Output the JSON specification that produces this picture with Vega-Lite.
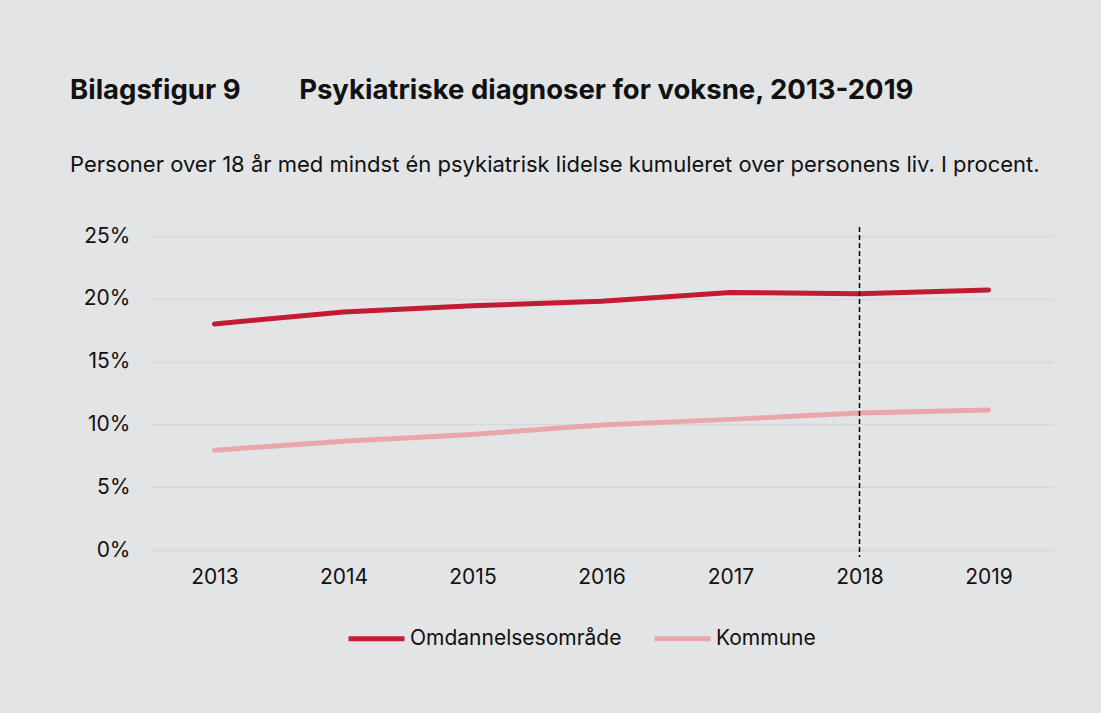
{
  "$schema": "https://vega.github.io/schema/vega-lite/v6.json",
  "width": 903,
  "height": 314,
  "autosize": {"type": "none"},
  "padding": {"left": 150, "top": 236, "right": 48, "bottom": 163},
  "background": "#e3e4e6",
  "title": {
    "text": "Bilagsfigur 9\u00a0\u00a0\u00a0\u00a0\u00a0\u00a0\u00a0\u00a0\u00a0Psykiatriske diagnoser for voksne, 2013-2019",
    "subtitle": "Personer over 18 år med mindst én psykiatrisk lidelse kumuleret over personens liv. I procent.",
    "anchor": "start",
    "frame": "group",
    "dx": -80,
    "offset": 49,
    "font": "Inter",
    "fontSize": 27.5,
    "fontWeight": "bold",
    "color": "#111111",
    "subtitleFont": "Inter",
    "subtitleFontSize": 22,
    "subtitleColor": "#111111",
    "subtitlePadding": 51
  },
  "config": {
    "view": {"stroke": null},
    "font": "Inter"
  },
  "layer": [
    {
      "data": {
        "values": [
          {"year": "2013", "serie": "Omdannelsesområde", "pct": 18.0},
          {"year": "2014", "serie": "Omdannelsesområde", "pct": 18.95},
          {"year": "2015", "serie": "Omdannelsesområde", "pct": 19.45},
          {"year": "2016", "serie": "Omdannelsesområde", "pct": 19.8},
          {"year": "2017", "serie": "Omdannelsesområde", "pct": 20.5},
          {"year": "2018", "serie": "Omdannelsesområde", "pct": 20.4},
          {"year": "2019", "serie": "Omdannelsesområde", "pct": 20.7},
          {"year": "2013", "serie": "Kommune", "pct": 7.95},
          {"year": "2014", "serie": "Kommune", "pct": 8.65},
          {"year": "2015", "serie": "Kommune", "pct": 9.2},
          {"year": "2016", "serie": "Kommune", "pct": 9.95},
          {"year": "2017", "serie": "Kommune", "pct": 10.4},
          {"year": "2018", "serie": "Kommune", "pct": 10.9},
          {"year": "2019", "serie": "Kommune", "pct": 11.15}
        ]
      },
      "mark": {"type": "line", "strokeWidth": 5, "strokeCap": "round", "strokeJoin": "round"},
      "encoding": {
        "x": {
          "field": "year",
          "type": "ordinal",
          "scale": {"type": "point", "padding": 0.5},
          "axis": {
            "title": null,
            "labelAngle": 0,
            "domain": false,
            "ticks": false,
            "grid": false,
            "labelFont": "Inter",
            "labelFontSize": 21,
            "labelColor": "#111111",
            "labelPadding": 16
          }
        },
        "y": {
          "field": "pct",
          "type": "quantitative",
          "scale": {"domain": [0, 25], "nice": false},
          "axis": {
            "title": null,
            "values": [0, 5, 10, 15, 20, 25],
            "labelExpr": "datum.value + '%'",
            "domain": false,
            "ticks": false,
            "grid": true,
            "gridColor": "#d6d7d9",
            "gridWidth": 1.5,
            "labelFont": "Inter",
            "labelFontSize": 21,
            "labelColor": "#111111",
            "labelPadding": 20
          }
        },
        "color": {
          "field": "serie",
          "type": "nominal",
          "scale": {
            "domain": ["Omdannelsesområde", "Kommune"],
            "range": ["#c11c33", "#e9a6ac"]
          },
          "legend": {
            "title": null,
            "orient": "none",
            "direction": "horizontal",
            "legendX": 196,
            "legendY": 372,
            "padding": 0,
            "symbolType": "stroke",
            "symbolSize": 3136,
            "symbolStrokeWidth": 5,
            "labelOffset": 3,
            "labelLimit": 0,
            "columnPadding": 22,
            "labelFont": "Inter",
            "labelFontSize": 21,
            "labelColor": "#111111"
          }
        }
      }
    },
    {
      "data": {"values": [{"year": "2018", "top": 25.72, "bottom": -0.56}]},
      "mark": {"type": "rule", "color": "#000000", "strokeWidth": 1.5, "strokeDash": [5, 3]},
      "encoding": {
        "x": {"field": "year", "type": "ordinal"},
        "y": {"field": "top", "type": "quantitative", "scale": {"domain": [0, 25], "nice": false}},
        "y2": {"field": "bottom"}
      }
    }
  ]
}
